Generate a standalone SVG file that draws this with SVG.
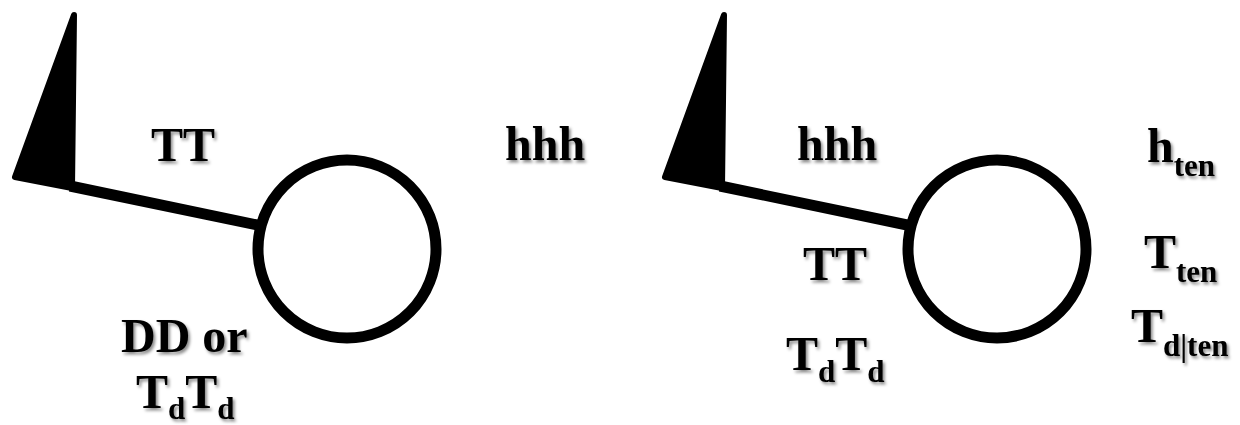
<svg xmlns="http://www.w3.org/2000/svg" width="1240" height="425" viewBox="0 0 1240 425">
<style>
.lbl{font-family:"Liberation Serif","Times New Roman",serif;font-weight:bold;font-size:48px;fill:#000;filter:url(#sh)}
.sub{font-size:31px}
.ln{stroke:#000;stroke-width:11;fill:none}
.flag{fill:#000;stroke:#000;stroke-width:6;stroke-linejoin:round}
</style>
<defs>
<filter id="sh" x="-10%" y="-20%" width="130%" height="150%">
<feDropShadow dx="2" dy="2.5" stdDeviation="1.5" flood-color="#000" flood-opacity="0.45"/>
</filter>
</defs>
<g id="connectors">
<line class="ln" x1="70" y1="186" x2="262" y2="226"/>
<line class="ln" x1="720" y1="186" x2="912" y2="226"/>
</g>
<g id="flag-left"><polygon class="flag" points="74,15 15,177 72,188"/></g>
<g id="station-left"><circle class="ln" cx="347" cy="249" r="89"/></g>
<g id="flag-right"><polygon class="flag" points="724,15 665,177 722,188"/></g>
<g id="station-right"><circle class="ln" cx="997" cy="249" r="89"/></g>
<g id="labels-left">
<text class="lbl" x="151" y="161">TT</text>
<text class="lbl" x="505" y="160">hhh</text>
<text class="lbl" x="121" y="352">DD or</text>
<text class="lbl" x="136" y="408">T<tspan class="sub" dy="11">d</tspan><tspan dy="-11">T</tspan><tspan class="sub" dy="11">d</tspan></text>
</g>
<g id="labels-right">
<text class="lbl" x="797" y="160">hhh</text>
<text class="lbl" x="803" y="280">TT</text>
<text class="lbl" x="786" y="370">T<tspan class="sub" dy="12">d</tspan><tspan dy="-12">T</tspan><tspan class="sub" dy="12">d</tspan></text>
<text class="lbl" x="1147" y="162">h<tspan class="sub" dy="14">ten</tspan></text>
<text class="lbl" x="1144" y="268">T<tspan class="sub" dy="14">ten</tspan></text>
<text class="lbl" x="1131" y="342">T<tspan class="sub" dy="14">d|ten</tspan></text>
</g>
</svg>
